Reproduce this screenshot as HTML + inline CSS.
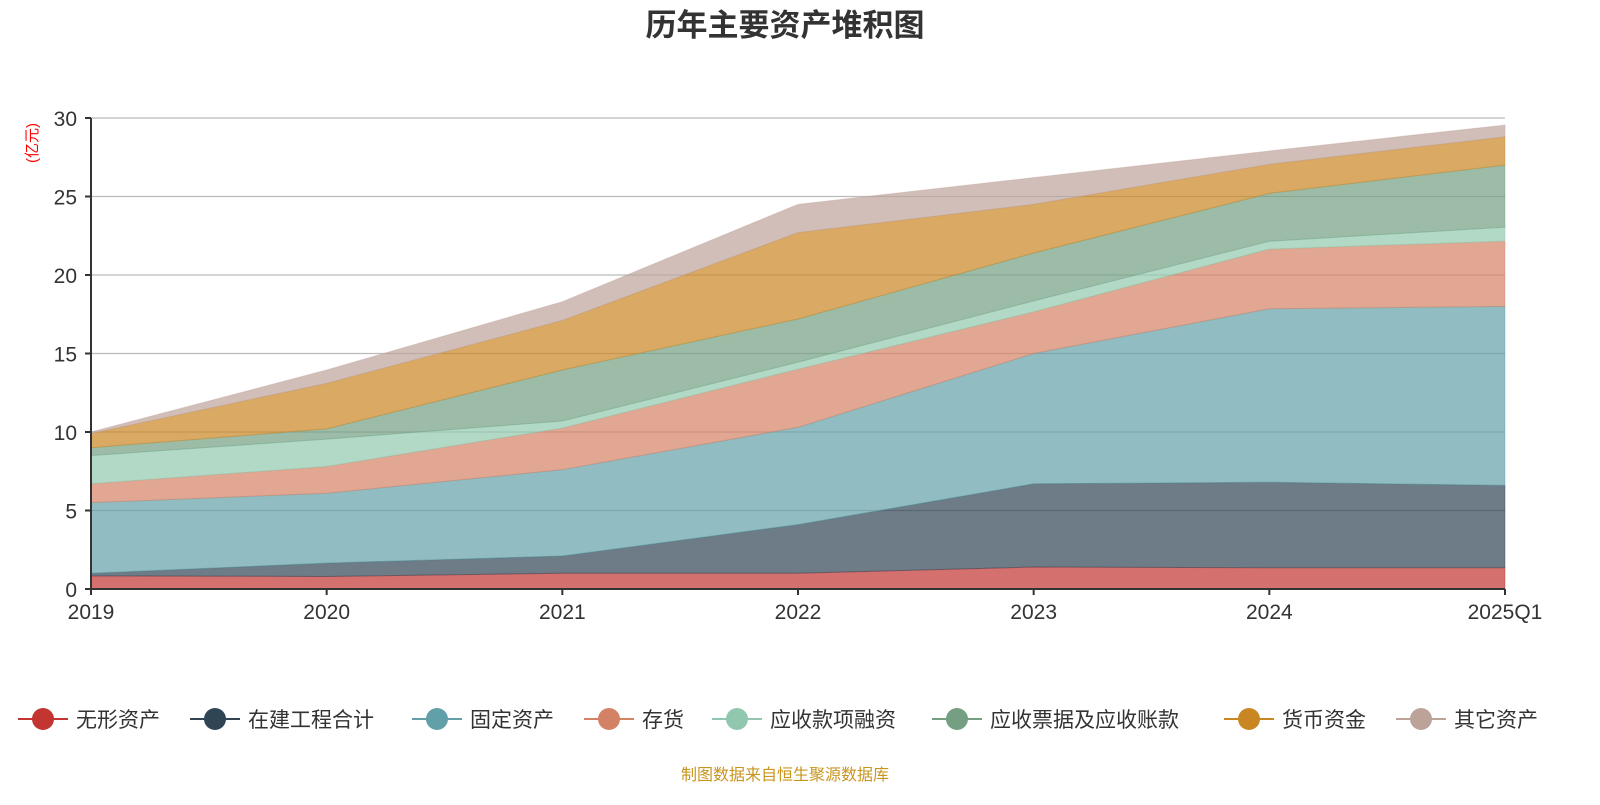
<!DOCTYPE html>
<html><head><meta charset="utf-8"><style>
body{margin:0;background:#fff;width:1600px;height:800px;overflow:hidden;font-family:"Liberation Sans","Noto Sans CJK SC",sans-serif}
</style></head><body>
<svg id="c" width="1600" height="800" xmlns="http://www.w3.org/2000/svg">
<text x="785" y="36" text-anchor="middle" font-size="31" font-weight="bold" fill="#333" font-family="Liberation Sans,Noto Sans CJK SC,sans-serif">历年主要资产堆积图</text>
<text transform="translate(37,143) rotate(-90)" text-anchor="middle" font-size="15" fill="#ff0000" font-family="Liberation Sans,Noto Sans CJK SC,sans-serif">(亿元)</text>
<g id="grid"></g><g id="areas"></g><g id="axes"></g><g id="legend"></g>
<text x="785" y="780" text-anchor="middle" font-size="16" fill="#c8951f" font-family="Liberation Sans,Noto Sans CJK SC,sans-serif">制图数据来自恒生聚源数据库</text>
</svg>
<script>
const categories=["2019","2020","2021","2022","2023","2024","2025Q1"];
const seriesNames=["无形资产","在建工程合计","固定资产","存货","应收款项融资","应收票据及应收账款","货币资金","其它资产"];
const colors=["#c23531","#2f4554","#61a0a8","#d48265","#91c7ae","#749f83","#ca8622","#bda29a"];
const wuxing=[0.83,0.8,1.0,1.0,1.4,1.35,1.35];
const zaijian=[0.17,0.85,1.1,3.1,5.3,5.45,5.25];
const guding=[4.5,4.45,5.5,6.2,8.3,11.05,11.4];
const cunhuo=[1.2,1.7,2.65,3.7,2.65,3.8,4.15];
const rongzi=[1.8,1.75,0.45,0.45,0.7,0.5,0.9];
const piaoju=[0.5,0.65,3.25,2.75,3.05,3.05,3.95];
const huobi=[0.9,2.9,3.15,5.5,3.1,1.85,1.8];
const qita=[0.1,0.85,1.2,1.8,1.7,0.85,0.75];
const yTicks=[0,5,10,15,20,25,30];
const series=[wuxing,zaijian,guding,cunhuo,rongzi,piaoju,huobi,qita];
const NS="http://www.w3.org/2000/svg";
const X0=91,X1=1505,Y0=589,Y1=118,YMAX=30;
const xs=i=>X0+(X1-X0)*i/(categories.length-1);
const ys=v=>Y0-(Y0-Y1)*v/YMAX;
function mk(t,a,p){const e=document.createElementNS(NS,t);for(const k in a)e.setAttribute(k,a[k]);p.appendChild(e);return e;}
const F="Liberation Sans,Noto Sans CJK SC,sans-serif";
const grid=document.getElementById('grid'),areas=document.getElementById('areas'),axes=document.getElementById('axes'),leg=document.getElementById('legend');
yTicks.forEach(t=>{
 if(t>0){const l=mk('line',{x1:X0,x2:X1,y1:ys(t),y2:ys(t),stroke:'#bbb','stroke-width':1.2},grid);
 
 }
 const k=mk('line',{x1:X0-6,x2:X0,y1:ys(t),y2:ys(t),stroke:'#333','stroke-width':2},axes);
 const tx=mk('text',{x:X0-14,y:ys(t)+8,'text-anchor':'end','font-size':21,fill:'#333','font-family':F},axes);
 tx.textContent=t;
 
 
});
let cum=categories.map(()=>0);
series.forEach((s,si)=>{
 const lo=cum.slice();const hi=cum.map((v,i)=>v+s[i]);
 let d='M'+categories.map((c,i)=>xs(i)+','+ys(hi[i])).join(' L');
 for(let i=categories.length-1;i>=0;i--)d+=' L'+xs(i)+','+ys(lo[i]);
 const p=mk('path',{d:d+'Z',fill:colors[si],'fill-opacity':0.7,stroke:colors[si],'stroke-opacity':0.4,'stroke-width':1},areas);
 
 
 cum=hi;
});
mk('line',{x1:X0,x2:X0,y1:Y1,y2:Y0,stroke:'#333','stroke-width':2},axes);
mk('line',{x1:X0,x2:X1,y1:Y0,y2:Y0,stroke:'#333','stroke-width':2},axes);
categories.forEach((c,i)=>{
 mk('line',{x1:xs(i),x2:xs(i),y1:Y0,y2:Y0+6,stroke:'#333','stroke-width':2},axes);
 const t=mk('text',{x:xs(i),y:Y0+30,'text-anchor':i==categories.length-1?'middle':'middle','font-size':21,fill:'#333','font-family':F},axes);
 t.textContent=c;
 
 
});
const lx=[18,190,412,584,712,932,1224,1396];
seriesNames.forEach((n,i)=>{
 const g=mk('g',{},leg);
 
 
 mk('line',{x1:lx[i],x2:lx[i]+50,y1:719,y2:719,stroke:colors[i],'stroke-width':2},g);
 mk('circle',{cx:lx[i]+25,cy:719,r:11,fill:colors[i]},g);
 const t=mk('text',{x:lx[i]+58,y:727,'font-size':21,fill:'#333','font-family':F},g);
 t.textContent=n;
});
</script>
</body></html>
